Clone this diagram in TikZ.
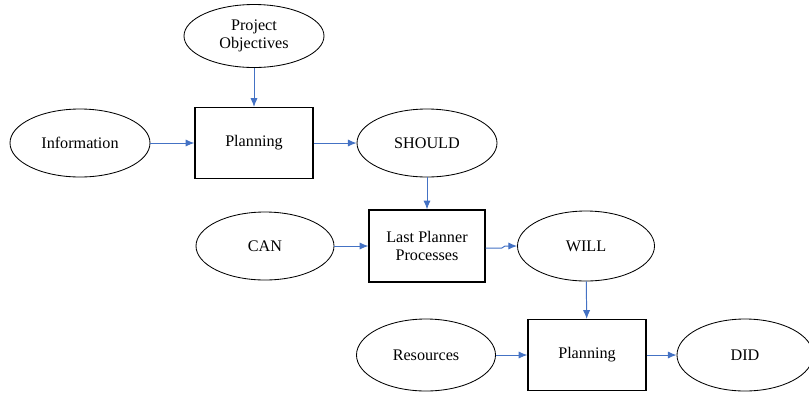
\documentclass[tikz,border=0pt]{standalone}
\usepackage{fontspec}
\setmainfont{Liberation Serif}
\usepackage{tikz}
\usetikzlibrary{
	positioning,
	arrows.meta,
	shapes.geometric
}

\definecolor{flowblue}{RGB}{68,114,196}

\begin{document}
\begin{tikzpicture}[
		oval/.style={draw,ellipse,line width=0.6pt,minimum width=3.5cm,minimum height=1.7cm,inner sep=0pt,align=center},
		procbox/.style={draw,rectangle,line width=0.9pt,minimum width=2.95cm,minimum height=1.77cm,align=center},
		flow/.style={draw=flowblue,line width=0.7pt,-{Latex[length=2.2mm,width=1.8mm]}},
		font=\fontsize{11.5}{13}\selectfont
	]
			
			\useasboundingbox (0,0) rectangle (20.225,-9.8);
			
			\node[oval,minimum height=1.575cm] (obj) at (6.35,-0.9) {Project\\Objectives};
			\node[oval] (info) at (2.0,-3.575) {Information};
			\node[procbox] (plan1) at (6.35,-3.575) {Planning};
			\node[oval] (should) at (10.675,-3.575) {SHOULD};
			
			\node[oval,minimum width=3.45cm] (can) at (6.625,-6.15) {CAN};
			\node[procbox,minimum width=2.9cm,minimum height=1.8cm] (lpp) at (10.675,-6.15) {Last Planner\\Processes};
			\node[oval,minimum width=3.425cm,minimum height=1.75cm] (will) at (14.65,-6.15) {WILL};
			
			\node[oval,minimum width=3.475cm,minimum height=1.8cm] (res) at (10.65,-8.875) {Resources};
			\node[procbox] (plan2) at (14.675,-8.875) {Planning};
			\node[oval,minimum width=3.4cm,minimum height=1.8cm] (did) at (18.625,-8.875) {DID};
			
			\draw[flow] (obj)--(plan1);
			\draw[flow] (info)--(plan1);
			\draw[flow] (plan1)--(should);
			\draw[flow] (should)--(lpp);
			\draw[flow] (can)--(lpp);
			\draw[flow] ([yshift=-1.5pt]lpp.east)--++(0.4,0)--([xshift=-0.3cm]will.west)--(will.west);
			\draw[flow] (will)--(plan2);
			\draw[flow] (res)--(plan2);
			\draw[flow] (plan2)--(did);
			
		\end{tikzpicture}
\end{document}
